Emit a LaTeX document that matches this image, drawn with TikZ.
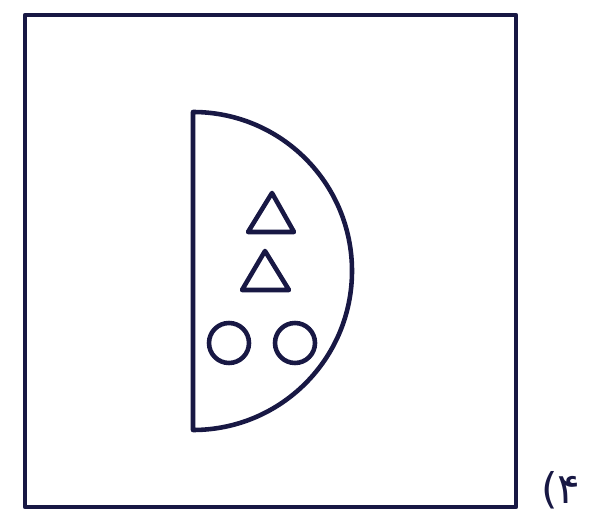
\documentclass[tikz,border=0pt]{standalone}
\usepackage{fontspec}
\newfontfamily\arabicfont[Script=Arabic]{DejaVu Sans}
\usepackage{tikz}
\definecolor{ink}{RGB}{24,24,68}

\begin{document}
\begin{tikzpicture}[x=0.03cm,y=-0.03cm,line width=3.9pt,line join=round,ink]
\useasboundingbox (0,0) rectangle (594,514);
% frame
\draw (25,15) rectangle (516,507);
% half disc
\coordinate (top) at (193,112);
\draw (top) arc[start angle=-90,end angle=90,radius=159] -- cycle;
% triangles
\draw (248,232) -- (272,193) -- (294,232) -- cycle;
\draw (242,290) -- (265,251) -- (289,290) -- cycle;
% circles
\draw (229,343) circle (20);
\draw (295,343) circle (20);
% option number
\node[anchor=base west,inner sep=0pt,font=\arabicfont\fontsize{36}{40}\selectfont] (opt) at (539,503) {۴)};
\end{tikzpicture}
\end{document}
